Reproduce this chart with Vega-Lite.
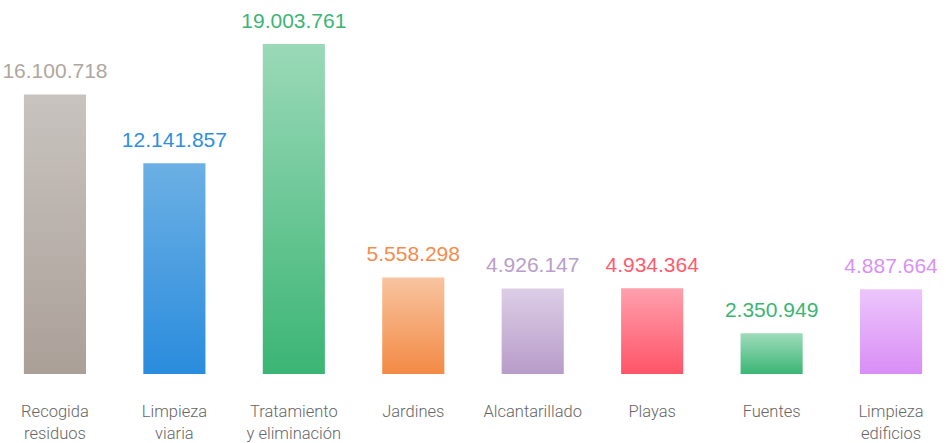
{
  "$schema": "https://vega.github.io/schema/vega-lite/v6.json",
  "width": 946,
  "height": 330,
  "autosize": "none",
  "padding": {"left": 0, "top": 44, "right": 0, "bottom": 69},
  "background": "white",
  "config": {"view": {"stroke": null}},
  "data": {"values": [
    {"cat": "Recogida|residuos", "value": 16100718, "label": "16.100.718"},
    {"cat": "Limpieza|viaria", "value": 12141857, "label": "12.141.857"},
    {"cat": "Tratamiento|y eliminación", "value": 19003761, "label": "19.003.761"},
    {"cat": "Jardines", "value": 5558298, "label": "5.558.298"},
    {"cat": "Alcantarillado", "value": 4926147, "label": "4.926.147"},
    {"cat": "Playas", "value": 4934364, "label": "4.934.364"},
    {"cat": "Fuentes", "value": 2350949, "label": "2.350.949"},
    {"cat": "Limpieza|edificios", "value": 4887664, "label": "4.887.664"}
  ]},
  "encoding": {
    "x": {"field": "cat", "type": "nominal", "sort": null,
      "scale": {"paddingInner": 0.48, "paddingOuter": 0.2},
      "axis": {"title": null, "domain": false, "ticks": false, "labelAngle": 0,
        "labelExpr": "split(datum.label, '|')", "labelFont": "Roboto", "labelFontWeight": 300,
        "labelFontSize": 16.5, "labelColor": "#666666", "labelPadding": 29, "labelLineHeight": 22}},
    "y": {"field": "value", "type": "quantitative", "scale": {"domain": [0, 19003761], "nice": false, "zero": true}, "axis": null}
  },
  "layer": [
    {"transform": [{"filter": "datum.cat == 'Recogida|residuos'"}], "mark": {"type": "bar", "color": {"gradient": "linear", "x1": 0, "y1": 0, "x2": 0, "y2": 1, "stops": [{"offset": 0, "color": "#c8c3bf"}, {"offset": 1, "color": "#aba098"}]}}},
    {"transform": [{"filter": "datum.cat == 'Limpieza|viaria'"}], "mark": {"type": "bar", "color": {"gradient": "linear", "x1": 0, "y1": 0, "x2": 0, "y2": 1, "stops": [{"offset": 0, "color": "#6cb0e4"}, {"offset": 1, "color": "#2a8cdd"}]}}},
    {"transform": [{"filter": "datum.cat == 'Tratamiento|y eliminación'"}], "mark": {"type": "bar", "color": {"gradient": "linear", "x1": 0, "y1": 0, "x2": 0, "y2": 1, "stops": [{"offset": 0, "color": "#9bd9b8"}, {"offset": 1, "color": "#3bb574"}]}}},
    {"transform": [{"filter": "datum.cat == 'Jardines'"}], "mark": {"type": "bar", "color": {"gradient": "linear", "x1": 0, "y1": 0, "x2": 0, "y2": 1, "stops": [{"offset": 0, "color": "#f8c4a0"}, {"offset": 1, "color": "#f38a45"}]}}},
    {"transform": [{"filter": "datum.cat == 'Alcantarillado'"}], "mark": {"type": "bar", "color": {"gradient": "linear", "x1": 0, "y1": 0, "x2": 0, "y2": 1, "stops": [{"offset": 0, "color": "#dccde6"}, {"offset": 1, "color": "#b89cc9"}]}}},
    {"transform": [{"filter": "datum.cat == 'Playas'"}], "mark": {"type": "bar", "color": {"gradient": "linear", "x1": 0, "y1": 0, "x2": 0, "y2": 1, "stops": [{"offset": 0, "color": "#ffa0ad"}, {"offset": 1, "color": "#ff5468"}]}}},
    {"transform": [{"filter": "datum.cat == 'Fuentes'"}], "mark": {"type": "bar", "color": {"gradient": "linear", "x1": 0, "y1": 0, "x2": 0, "y2": 1, "stops": [{"offset": 0, "color": "#9edcbb"}, {"offset": 1, "color": "#3bb574"}]}}},
    {"transform": [{"filter": "datum.cat == 'Limpieza|edificios'"}], "mark": {"type": "bar", "color": {"gradient": "linear", "x1": 0, "y1": 0, "x2": 0, "y2": 1, "stops": [{"offset": 0, "color": "#ecc6fb"}, {"offset": 1, "color": "#d98df6"}]}}},
    {"mark": {"type": "text", "baseline": "bottom", "dy": -12, "font": "Liberation Sans", "fontSize": 21},
      "encoding": {
        "text": {"field": "label"},
        "color": {"field": "cat", "type": "nominal", "sort": null, "legend": null,
          "scale": {"range": ["#b0a69e", "#2e8fdd", "#3bb574", "#f58b4c", "#b99dca", "#ff5a6e", "#3bb574", "#d991f5"]}}
      }}
  ]
}
